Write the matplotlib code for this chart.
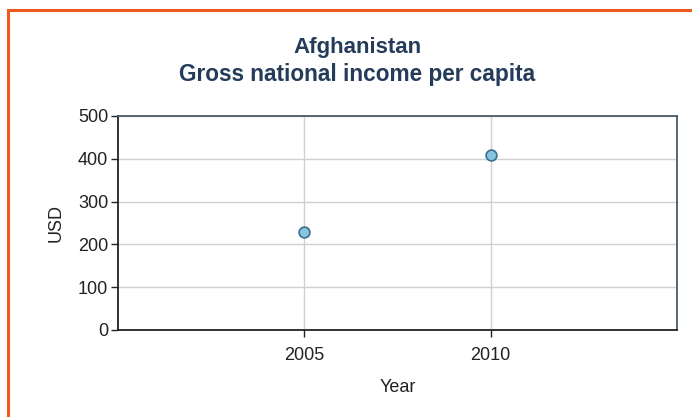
import matplotlib.pyplot as plt
import matplotlib.patches as mpatches

plt.rcParams['font.family'] = ['Liberation Sans', 'DejaVu Sans']

years = [2005, 2010]
gni = [228, 410]
xticks = [2005, 2010]
yticks = [0, 100, 200, 300, 400, 500]

fig = plt.figure(figsize=(6.92, 4.17), dpi=100)

# orange frame around the chart (only top and left visible)
fig.patches.append(mpatches.Rectangle((8 / 692, -0.05), 1.2, (417 - 10) / 417 + 0.05,
                                      transform=fig.transFigure, fill=False,
                                      edgecolor='#F05A1E', linewidth=2.2))

ax = fig.add_axes([118 / 692, (417 - 330) / 417, (677 - 118) / 692, (330 - 116) / 417])
ax.scatter(years, gni, s=60, color='#86C5E0', edgecolor='#3D6F8E', linewidth=1.2, zorder=3)

ax.set_xlim(2000, 2015)
ax.set_ylim(0, 500)
ax.set_xticks(xticks)
ax.set_yticks(yticks)
ax.grid(True, color='#D0D0D0', linewidth=1)
ax.set_axisbelow(True)

for side in ['left', 'bottom']:
    ax.spines[side].set_color('#222222')
    ax.spines[side].set_linewidth(1.3)
for side in ['top', 'right']:
    ax.spines[side].set_color('#4A5A66')
    ax.spines[side].set_linewidth(1.3)

ax.tick_params(axis='both', labelsize=13, colors='#222222', length=5, width=1)
ax.tick_params(axis='y', pad=2)
ax.tick_params(axis='x', pad=7)
ax.set_xlabel('Year', fontsize=13, color='#222222', labelpad=11)
ax.set_ylabel('USD', fontsize=13, color='#222222', labelpad=10)

fig.text(357 / 692, 1 - 47 / 417, 'Afghanistan', ha='center', va='center',
         fontsize=16, fontweight='bold', color='#243B5A')
fig.text(357 / 692, 1 - 75 / 417, 'Gross national income per capita', ha='center', va='center',
         fontsize=16.3, fontweight='bold', color='#243B5A')

fig.savefig('out.png', dpi=100)
